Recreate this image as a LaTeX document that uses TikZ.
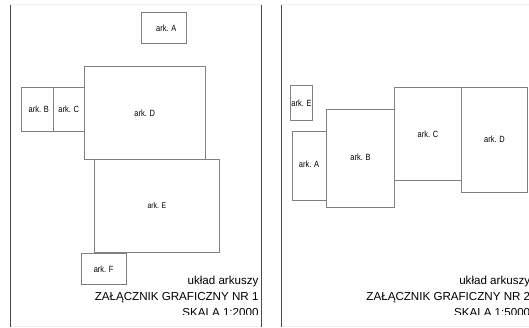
\documentclass[tikz,border=0pt]{standalone}
\usepackage{fontspec}
\setmainfont{Liberation Sans}
\newfontfamily\sheetfont[FakeStretch=0.83]{Liberation Sans}
\begin{document}
\begin{tikzpicture}[x=1pt,y=-1pt,
  frame/.style={draw=black!70,line width=0.9pt},
  faint/.style={draw=black!6,line width=0.8pt},
  sheet/.style={draw=black!50,line width=0.7pt,rectangle,inner sep=0pt,outer sep=0pt,
    font=\sheetfont\fontsize{9}{10}\selectfont,text=black},
  caption/.style={anchor=base east,inner sep=0pt,font=\fontsize{11.6}{13}\selectfont,text=black}]
\useasboundingbox (0,0) rectangle (529,327);

% panel frames
\draw[faint] (10.5,4.7) -- (261.3,4.7) (281.3,4.7) -- (529,4.7);
\draw[faint] (10.5,326) -- (261.3,326) (281.3,326) -- (529,326);
\draw[frame] (10.5,4.7) -- (10.5,327);
\draw[frame] (261.3,4.7) -- (261.3,327);
\draw[frame] (281.3,4.7) -- (281.3,327);

% sheet layout, scale 1:2000
\node[sheet,minimum width=45,minimum height=31.4] (lA) at (163.8,28) {\hspace{5pt}ark. A};
\node[sheet,minimum width=32,minimum height=43.6] (lB) at (37.3,109.5) {\hspace{3pt}ark. B};
\node[sheet,minimum width=31,minimum height=43.6] (lC) at (68.8,109.5) {ark. C};
\node[sheet,minimum width=121,minimum height=92.6] (lD) at (144.8,113) {ark. D};
\node[sheet,minimum width=124.3,minimum height=93,font=\sheetfont\fontsize{8.2}{9}\selectfont] (lE) at (156.85,205.8) {\raisebox{-1.5pt}{ark. E}};
\node[sheet,minimum width=45.3,minimum height=31] (lF) at (103.65,268.8) {\raisebox{-2.5pt}{ark. F}};

% sheet layout, scale 1:5000
\node[sheet,minimum width=21.6,minimum height=34.3] (rE) at (301.5,102.85) {\raisebox{-1pt}{ark. E}};
\node[sheet,minimum width=34,minimum height=69] (rA) at (309,165.8) {\raisebox{3pt}{ark. A}};
\node[sheet,minimum width=68.4,minimum height=98] (rB) at (360.5,158.3) {\raisebox{3pt}{ark. B}};
\node[sheet,minimum width=66.6,minimum height=93] (rC) at (428,133.8) {ark. C};
\node[sheet,minimum width=66.4,minimum height=104.7] (rD) at (494.5,139.65) {\raisebox{-1.5pt}{ark. D}};

% title blocks
\begin{scope}
\clip (0,0) rectangle (529,314);
\node[caption] (t1) at (258.7,284.6) {układ arkuszy};
\node[caption] (t2) at (258.7,300.6) {ZAŁĄCZNIK GRAFICZNY NR 1};
\node[caption] (t3) at (258.7,316.4) {SKALA 1:2000};
\node[caption] (u1) at (530.4,284.4) {układ arkuszy};
\node[caption] (u2) at (530.4,300.2) {ZAŁĄCZNIK GRAFICZNY NR 2};
\node[caption] (u3) at (530.4,316.2) {SKALA 1:5000};
\end{scope}
\end{tikzpicture}
\end{document}
